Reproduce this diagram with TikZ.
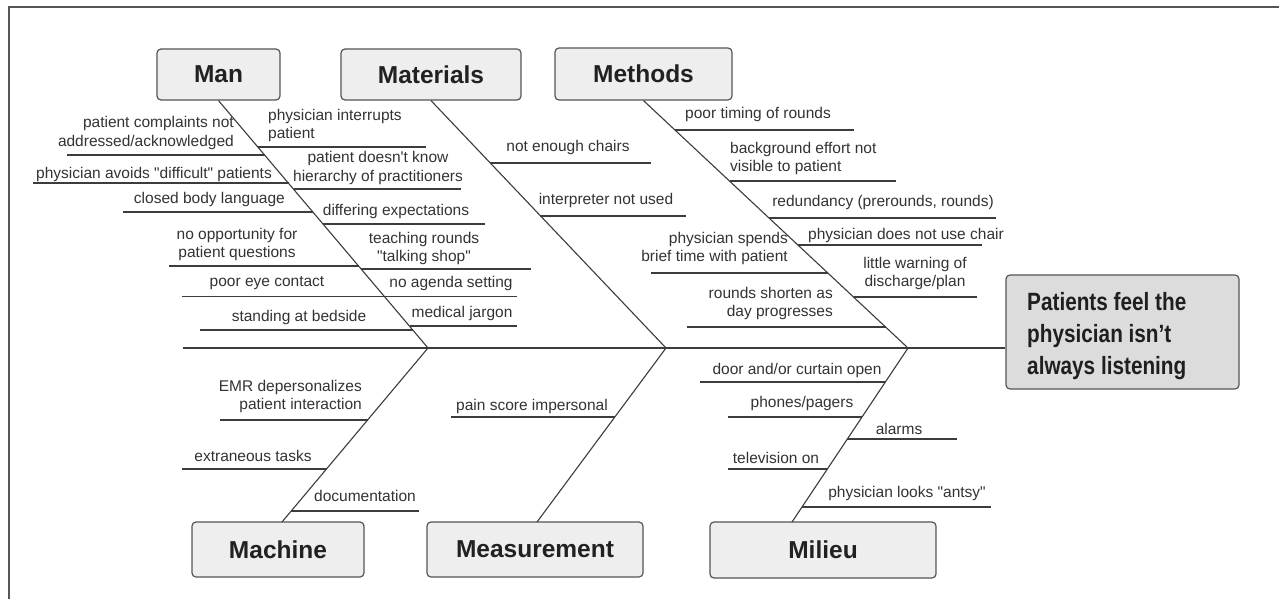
\documentclass[tikz,border=0pt]{standalone}
\usepackage{fontspec}
\setmainfont{Liberation Sans}[Ligatures=TeXOff]
\newfontfamily\narrowfont{Liberation Sans}[Ligatures=TeXOff,FakeStretch=0.83]
\usetikzlibrary{calc}
\definecolor{txtgray}{HTML}{333333}
\definecolor{linegray}{HTML}{3C3C3C}
\definecolor{boxfill}{HTML}{EEEEEE}
\definecolor{efffill}{HTML}{DCDCDC}
\definecolor{boxline}{HTML}{555555}
\tikzset{
  lbl/.style={font=\fontsize{15.5}{18.5}\selectfont, text=txtgray, inner sep=0pt},
  cat/.style={draw=boxline, fill=boxfill, rounded corners=4pt, line width=1.2pt,
    font=\fontsize{24.5}{28}\selectfont\bfseries, text=black!87, inner sep=0pt},
  bone/.style={draw=linegray, line width=1.1pt},
  ribline/.style={draw=linegray, line width=1.2pt},
  spineline/.style={draw=linegray, line width=1.4pt}
}
\newcommand\rib[4]{\coordinate (#1a) at (#2,#4); \coordinate (#1b) at (#3,#4); \draw[ribline] (#1a) -- (#1b);}
\begin{document}
\begin{tikzpicture}[x=1pt,y=-1pt]
\useasboundingbox (0,0) rectangle (1279,599);
\fill[white] (0,0) rectangle (1279,599);
% frame
\coordinate (fr1) at (1279,7.5);
\coordinate (fr2) at (8.5,7.5);
\coordinate (fr3) at (8.5,599);
\draw[boxline, line width=2pt] (fr1) -- (fr2) -- (fr3);

% category boxes
\node[cat, minimum width=123pt, minimum height=51pt] (man) at (218.5,74.5) {Man};
\node[cat, minimum width=180pt, minimum height=51pt] (mat) at (431,74.5) {Materials};
\node[cat, minimum width=177pt, minimum height=52pt] (meth) at (643.5,74) {Methods};
\node[cat, minimum width=172pt, minimum height=55pt] (mach) at (278,549.5) {Machine};
\node[cat, minimum width=216pt, minimum height=55pt] (meas) at (535,549.5) {Measurement};
\node[cat, minimum width=226pt, minimum height=56pt] (mil) at (823,550) {Milieu};
\node[draw=boxline, fill=efffill, rounded corners=4pt, line width=1.2pt,
      minimum width=233pt, minimum height=114pt] (eff) at (1122.5,332) {};
\node[anchor=west, inner sep=0pt, align=left, text=black!88,
      font=\narrowfont\bfseries\fontsize{25}{32}\selectfont] (efftxt) at (1027,336.5)
      {Patients feel the\\physician isn’t\\always listening};

% spine and bones
\coordinate (spl) at (183,348);
\coordinate (j1) at (428,348);
\coordinate (j2) at (666,348);
\coordinate (j3) at (908,348);
\coordinate (machb) at (282,522);
\coordinate (measb) at (537,522);
\coordinate (milb) at (792,522);
\draw[spineline] (spl) -- (spl -| eff.west);
\draw[bone] (man.south) -- (j1);
\draw[bone] (mat.south) -- (j2);
\draw[bone] (meth.south) -- (j3);
\draw[bone] (j1) -- (machb);
\draw[bone] (j2) -- (measb);
\draw[bone] (j3) -- (milb);

% Man ribs
\rib{ml1}{67}{264.6}{155}
\rib{ml2}{33}{288.5}{183}
\rib{ml3}{123}{313}{212}
\rib{ml4}{169}{359}{266}
\rib{ml5}{182}{384.5}{296.5}
\rib{ml6}{200}{413}{330}
\rib{mr1}{258}{426}{147}
\rib{mr2}{293.5}{461}{189}
\rib{mr3}{323}{485}{224}
\rib{mr4}{361}{531}{269}
\rib{mr5}{384.5}{517}{296.5}
\rib{mr6}{409.5}{517}{326}
% Materials ribs
\rib{ta1}{490}{651}{163}
\rib{ta2}{540}{686}{216}
% Methods ribs
\rib{me1}{675}{854}{130}
\rib{me2}{729.5}{896}{181}
\rib{me3}{769}{996}{218}
\rib{me4}{798}{982}{245}
\rib{me5}{853.5}{977}{297}
\rib{me6}{651}{828}{273}
\rib{me7}{687}{885.5}{327}
% Machine ribs
\rib{mc1}{220}{367.5}{420}
\rib{mc2}{182}{326.5}{469}
\rib{mc3}{291}{419}{511}
% Measurement rib
\rib{ms1}{451}{615}{417}
% Milieu ribs
\rib{mi1}{700}{885.3}{382}
\rib{mi2}{728}{862}{417}
\rib{mi3}{847.3}{957}{439}
\rib{mi4}{728}{827.3}{469}
\rib{mi5}{802}{991}{507}

% Man labels
\node[lbl, anchor=east, align=right] (tml1) at (234,133) {patient complaints not\\addressed/acknowledged};
\node[lbl, anchor=east] (tml2) at (272,174) {physician avoids "difficult" patients};
\node[lbl, anchor=east] (tml3) at (285,199) {closed body language};
\node[lbl, align=center] (tml4) at (237,244.5) {no opportunity for\\patient questions};
\node[lbl] (tml5) at (267,283) {poor eye contact};
\node[lbl] (tml6) at (299,317) {standing at bedside};
\node[lbl, anchor=west, align=left] (tmr1) at (268,125.5) {physician interrupts\\patient};
\node[lbl, align=center] (tmr2) at (378,168) {patient doesn't know\\hierarchy of practitioners};
\node[lbl] (tmr3) at (396,211) {differing expectations};
\node[lbl, align=center] (tmr4) at (424,248.5) {teaching rounds\\"talking shop"};
\node[lbl] (tmr5) at (451,283) {no agenda setting};
\node[lbl] (tmr6) at (462,313) {medical jargon};
% Materials labels
\node[lbl] (tta1) at (568,147) {not enough chairs};
\node[lbl] (tta2) at (606,200) {interpreter not used};
% Methods labels
\node[lbl] (tme1) at (758,114) {poor timing of rounds};
\node[lbl, anchor=west, align=left] (tme2) at (730,158.5) {background effort not\\visible to patient};
\node[lbl] (tme3) at (883,202) {redundancy (prerounds, rounds)};
\node[lbl] (tme4) at (906,235) {physician does not use chair};
\node[lbl, align=center] (tme5) at (915,273.5) {little warning of\\discharge/plan};
\node[lbl, anchor=east, align=right] (tme6) at (788,248.5) {physician spends\\brief time with patient};
\node[lbl, anchor=east, align=right] (tme7) at (833,303.5) {rounds shorten as\\day progresses};
% Machine labels
\node[lbl, anchor=east, align=right] (tmc1) at (362,396.5) {EMR depersonalizes\\patient interaction};
\node[lbl] (tmc2) at (253,456) {extraneous tasks};
\node[lbl] (tmc3) at (365,496) {documentation};
% Measurement label
\node[lbl] (tms1) at (532,406) {pain score impersonal};
% Milieu labels
\node[lbl] (tmi1) at (797,370) {door and/or curtain open};
\node[lbl] (tmi2) at (802,403) {phones/pagers};
\node[lbl] (tmi3) at (899,429) {alarms};
\node[lbl] (tmi4) at (776,458) {television on};
\node[lbl] (tmi5) at (907,493) {physician looks "antsy"};
\end{tikzpicture}
\end{document}
